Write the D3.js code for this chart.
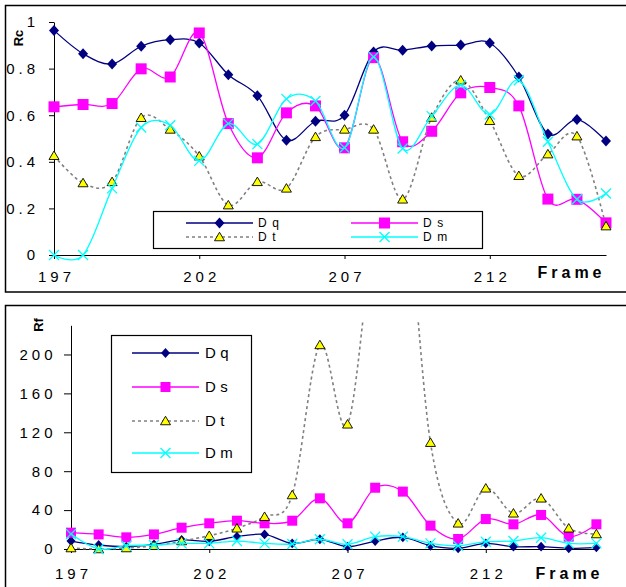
<!DOCTYPE html>
<html>
<head>
<meta charset="utf-8">
<script src="https://cdn.jsdelivr.net/npm/d3@7"></script>
<style>
  body { margin: 0; background: #fff; }
  text { font-family: "Liberation Sans", Arial, sans-serif; fill: #000; }
</style>
</head>
<body>
<div id="chart"></div>
<script>
// frames on the x axis
const frames = [197, 198, 199, 200, 201, 202, 203, 204, 205, 206, 207, 208, 209, 210, 211, 212, 213, 214, 215, 216];
const frameTicks = [197, 202, 207, 212];
const seriesNames = ["Dq", "Ds", "Dt", "Dm"];

// Rc (top chart)
const rcTicks = [0, 0.2, 0.4, 0.6, 0.8, 1];
const rcDq = [0.964, 0.864, 0.82, 0.896, 0.924, 0.91, 0.774, 0.684, 0.493, 0.574, 0.60, 0.871, 0.879, 0.897, 0.901, 0.91, 0.764, 0.519, 0.582, 0.489];
const rcDs = [0.636, 0.646, 0.65, 0.799, 0.764, 0.953, 0.564, 0.417, 0.61, 0.64, 0.46, 0.847, 0.486, 0.531, 0.696, 0.719, 0.64, 0.24, 0.239, 0.138];
const rcDt = [0.426, 0.309, 0.314, 0.589, 0.539, 0.424, 0.214, 0.314, 0.286, 0.507, 0.539, 0.539, 0.239, 0.59, 0.75, 0.576, 0.34, 0.433, 0.51, 0.124];
const rcDm = [0, 0, 0.286, 0.547, 0.557, 0.404, 0.564, 0.476, 0.67, 0.661, 0.46, 0.85, 0.457, 0.596, 0.729, 0.603, 0.75, 0.486, 0.239, 0.264];

// Rf (bottom chart)
const rfTicks = [0, 40, 80, 120, 160, 200];
const rfDq = [8.2, 4.1, 2.4, 4.8, 9.3, 8, 12.7, 15, 5.8, 10, 2.4, 8.2, 12, 3.4, 0.7, 5.8, 2.4, 2.4, 0.7, 1.7];
const rfDs = [16.8, 15, 12, 15, 21.9, 26.4, 29.1, 26.4, 29.1, 52.1, 26.4, 63, 59, 24, 10.3, 30.8, 25.4, 35, 12.7, 25.4];
const rfDt = [1, 0, 1, 3.4, 8.2, 13.7, 21.3, 33.2, 55.5, 209.8, 128.2, 330, 380, 109.3, 26.4, 62.4, 36.7, 52.1, 21.3, 15.4];
const rfDm = [15.4, 0, 3.4, 4.1, 5.8, 5.8, 8.2, 5.8, 5.1, 10, 4.8, 12.7, 12.7, 5.8, 3.4, 7.5, 8.2, 11.6, 5.8, 5.8];

const styles = {
  Dq: { color: "#000080", marker: "diamond" },
  Ds: { color: "#ff00ff", marker: "square" },
  Dt: { color: "#808080", marker: "triangle", dash: "3,3" },
  Dm: { color: "#00ffff", marker: "cross" }
};

const svg = d3.select("#chart").append("svg")
  .attr("width", 626)
  .attr("height", 587);

function markerPath(type, s) {
  if (type === "diamond") return `M0,${-s * 1.1}L${s},0L0,${s * 1.1}L${-s},0Z`;
  if (type === "square") return `M${-s},${-s}h${2 * s}v${2 * s}h${-2 * s}Z`;
  if (type === "triangle") return `M0,${-s * 0.95}L${s},${s * 0.75}L${-s},${s * 0.75}Z`;
  return `M${-s},${-s}L${s},${s}M${s},${-s}L${-s},${s}`;
}

function drawMarker(g, name, x, y, s) {
  const st = styles[name];
  const p = g.append("path")
    .attr("transform", `translate(${x},${y})`)
    .attr("d", markerPath(st.marker, s));
  if (st.marker === "triangle") p.attr("fill", "#ffff00").attr("stroke", "#000").attr("stroke-width", 0.9);
  else if (st.marker === "cross") p.attr("fill", "none").attr("stroke", st.color).attr("stroke-width", 1.3);
  else p.attr("fill", st.color);
}

function drawPanel(o) {
  const g = svg.append("g");

  // frame border
  g.append("rect")
    .attr("x", 5.5).attr("y", o.boxTop + 0.5)
    .attr("width", 700).attr("height", o.boxHeight)
    .attr("fill", "none").attr("stroke", "#000").attr("stroke-width", 1.5);

  const x = d3.scaleLinear().domain([197, 216]).range(o.xRange);
  const y = d3.scaleLinear().domain(o.yDomain).range(o.yRange);

  // y axis
  const ya = g.append("g")
    .attr("transform", `translate(${o.xRange[0]},0)`)
    .call(d3.axisLeft(y).tickValues(o.yTicks).tickFormat(d => String(d))
      .tickSize(o.yTickLen).tickSizeOuter(0).tickPadding(o.yPad));
  ya.select(".domain").attr("stroke", "#000");
  ya.selectAll("text").attr("font-size", 15).attr("letter-spacing", 4)
    .attr("font-family", "Liberation Sans, Arial, sans-serif");

  // x axis
  const xa = g.append("g")
    .attr("transform", `translate(0,${o.yRange[0]})`)
    .call(d3.axisBottom(x).tickValues(frameTicks).tickFormat(d => String(d))
      .tickSize(4).tickSizeOuter(0).tickPadding(o.xPad));
  xa.select(".domain").attr("stroke", "#000");
  xa.selectAll("text").attr("font-size", 15).attr("letter-spacing", 4).attr("dx", 2)
    .attr("font-family", "Liberation Sans, Arial, sans-serif");

  // axis titles
  g.append("text")
    .attr("transform", `translate(${o.titlePos[0]},${o.titlePos[1]}) rotate(-90)`)
    .attr("text-anchor", "middle")
    .attr("font-size", 13).attr("font-weight", "bold")
    .text(o.title);
  g.append("text")
    .attr("x", o.framePos[0]).attr("y", o.framePos[1])
    .attr("text-anchor", "middle")
    .attr("font-size", 16).attr("font-weight", "bold").attr("letter-spacing", 4).attr("dx", 2)
    .text("Frame");

  // clip for values running off the top
  const clipId = "clip" + o.title;
  g.append("clipPath").attr("id", clipId)
    .append("rect").attr("x", 0).attr("y", o.clipTop).attr("width", 626).attr("height", 587);

  const line = d3.line()
    .x((d, i) => x(frames[i]))
    .y(d => y(d))
    .curve(d3.curveCatmullRom.alpha(0));

  seriesNames.forEach(name => {
    const vals = o.values[name];
    const st = styles[name];
    const sg = g.append("g").attr("clip-path", `url(#${clipId})`);
    sg.append("path")
      .attr("d", line(vals))
      .attr("fill", "none")
      .attr("stroke", st.color)
      .attr("stroke-width", st.dash ? 1.6 : 1.3)
      .attr("stroke-dasharray", st.dash || null);
    vals.forEach((v, i) => drawMarker(sg, name, x(frames[i]), y(v), o.markerSize[name]));
  });

  return g;
}

function drawLegend(o) {
  const g = svg.append("g");
  g.append("rect")
    .attr("x", o.box[0] + 0.5).attr("y", o.box[1] + 0.5)
    .attr("width", o.box[2]).attr("height", o.box[3])
    .attr("fill", "#fff").attr("stroke", "#000").attr("stroke-width", 1.2);
  o.items.forEach(it => {
    const st = styles[it.name];
    g.append("line")
      .attr("x1", it.x).attr("x2", it.x + o.lineLen)
      .attr("y1", it.y).attr("y2", it.y)
      .attr("stroke", st.color)
      .attr("stroke-width", st.dash ? 1.6 : 1.3)
      .attr("stroke-dasharray", st.dash || null);
    drawMarker(g, it.name, it.x + o.lineLen / 2, it.y, o.markerSize[it.name]);
    g.append("text")
      .attr("x", it.x + o.lineLen + o.textGap).attr("y", it.y + o.fontSize * 0.32)
      .attr("font-size", o.fontSize).attr("letter-spacing", o.spacing)
      .text(it.name);
  });
}

// top chart: Rc
drawPanel({
  boxTop: 5, boxHeight: 286.5,
  xRange: [54, 606], yRange: [255, 22], yDomain: [0, 1],
  yTicks: rcTicks, yTickLen: 5, yPad: 10, xPad: 12.3,
  title: "Rc", titlePos: [22.5, 38], framePos: [569.5, 278],
  clipTop: 0,
  values: { Dq: rcDq, Ds: rcDs, Dt: rcDt, Dm: rcDm },
  markerSize: { Dq: 5, Ds: 5.5, Dt: 5, Dm: 5 }
});
drawLegend({
  box: [153, 211, 329, 37], lineLen: 67, textGap: 5, fontSize: 12, spacing: 5.5,
  markerSize: { Dq: 5, Ds: 5.5, Dt: 5, Dm: 5 },
  items: [
    { name: "Dq", x: 186, y: 223 },
    { name: "Dt", x: 186, y: 237 },
    { name: "Ds", x: 351, y: 223 },
    { name: "Dm", x: 351, y: 237 }
  ]
});

// bottom chart: Rf
drawPanel({
  boxTop: 305, boxHeight: 400,
  xRange: [71, 596.4], yRange: [549, 325.3], yDomain: [0, 230],
  yTicks: rfTicks, yTickLen: 7, yPad: 7.5, xPad: 15.3,
  title: "Rf", titlePos: [43, 325], framePos: [567.5, 579],
  clipTop: 320,
  values: { Dq: rfDq, Ds: rfDs, Dt: rfDt, Dm: rfDm },
  markerSize: { Dq: 4.5, Ds: 5, Dt: 5, Dm: 5 }
});
drawLegend({
  box: [111, 335, 140, 137], lineLen: 67, textGap: 6, fontSize: 15, spacing: 4.5,
  markerSize: { Dq: 4.5, Ds: 5, Dt: 5, Dm: 5 },
  items: [
    { name: "Dq", x: 132, y: 353 },
    { name: "Ds", x: 132, y: 387 },
    { name: "Dt", x: 132, y: 421 },
    { name: "Dm", x: 132, y: 453 }
  ]
});
</script>
</body>
</html>
